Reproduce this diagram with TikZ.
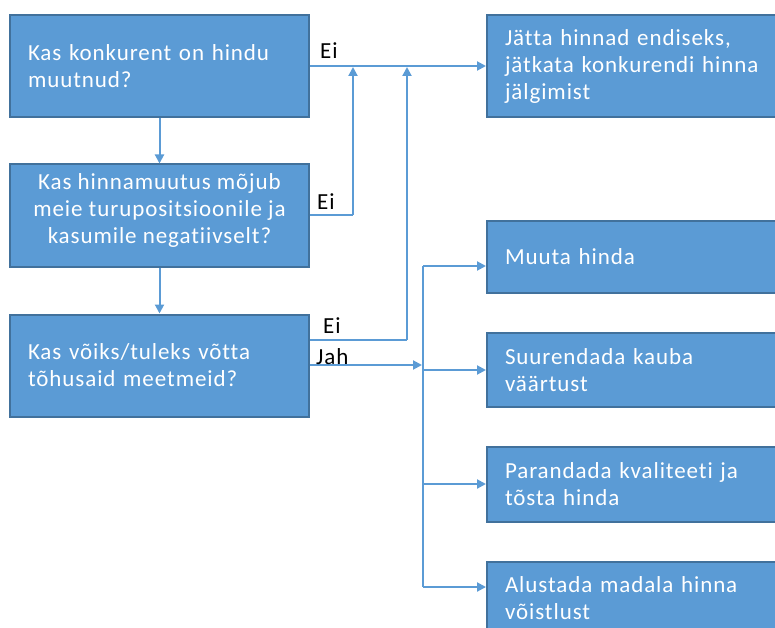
\documentclass[tikz,border=0pt]{standalone}
\usepackage{fontspec}
\setmainfont[Ligatures=NoCommon,LetterSpace=4]{Carlito}
\usetikzlibrary{arrows.meta}
\definecolor{boxfill}{HTML}{5B9BD5}
\definecolor{boxline}{HTML}{41719C}
\definecolor{linkcol}{HTML}{5B9BD5}
\begin{document}
\begin{tikzpicture}[x=1pt,y=-1pt,
  boxtext/.style={text=white,inner sep=0pt,font=\fontsize{23}{27}\selectfont},
  box/.style={boxtext,draw=boxline,line width=2pt,fill=boxfill},
  leftbox/.style={box,align=left,text width=#1},
  link/.style={draw=linkcol,line width=2pt},
  arr/.style={link,-{Triangle[length=9pt,width=9pt]}},
  lbl/.style={anchor=base west,inner sep=0pt,font=\fontsize{23}{27}\selectfont}]
\useasboundingbox (0,0) rectangle (775,628);

% question boxes (left column)
\node[leftbox=263pt,minimum width=299pt,minimum height=102pt] (qa) at (159.5,66)
  {Kas konkurent on hindu\\muutnud?};
\node[box,minimum width=299pt,minimum height=102pt] (qb) at (159.5,215.5) {};
\node[boxtext,align=center] (qbt) at (159.5,210)
  {Kas hinnamuutus mõjub\\meie turupositsioonile ja\\kasumile negatiivselt?};
\node[leftbox=263pt,minimum width=299pt,minimum height=102pt] (qc) at (159.5,365.5)
  {Kas võiks/tuleks võtta\\tõhusaid meetmeid?};

% outcome boxes (right column)
\node[leftbox=255pt,minimum width=291pt,minimum height=102pt] (r1) at (632.5,66)
  {Jätta hinnad endiseks,\\jätkata konkurendi hinna\\jälgimist};
\node[leftbox=255pt,minimum width=291pt,minimum height=72pt] (r2) at (632.5,257)
  {Muuta hinda};
\node[leftbox=255pt,minimum width=291pt,minimum height=74pt] (r3) at (632.5,370)
  {Suurendada kauba\\väärtust};
\node[leftbox=255pt,minimum width=291pt,minimum height=75pt] (r4) at (632.5,484.5)
  {Parandada kvaliteeti ja\\tõsta hinda};
\node[leftbox=255pt,minimum width=291pt,minimum height=72pt] (r5) at (632.5,598)
  {Alustada madala hinna\\võistlust};

% junction points
\coordinate (jb) at (353,215);
\coordinate (jbtop) at (353,67);
\coordinate (jc) at (407,340);
\coordinate (jctop) at (407,67);
\coordinate (tr2) at (423,266);
\coordinate (tr3) at (423,370);
\coordinate (tr4) at (423,484);
\coordinate (tr5) at (423,587);
\coordinate (jah) at (422,365);

% downward flow
\draw[arr] (qa.south) -- (qb.north);
\draw[arr] (qb.south) -- (qc.north);

% "Ei" branches to the top-right outcome
\draw[arr] (qa.east) -- (r1.west);
\draw[link] (qb.east |- jb) -- (jb);
\draw[arr] (jb) -- (jbtop);
\draw[link] (qc.east |- jc) -- (jc);
\draw[arr] (jc) -- (jctop);

% "Jah" branch and the fan-out
\draw[arr] (qc.east |- jah) -- (jah);
\draw[link] (tr2) -- (tr5);
\draw[arr] (tr2) -- (tr2 -| r2.west);
\draw[arr] (tr3) -- (tr3 -| r3.west);
\draw[arr] (tr4) -- (tr4 -| r4.west);
\draw[arr] (tr5) -- (tr5 -| r5.west);

% connector labels
\node[lbl] (la) at (320,59) {Ei};
\node[lbl] (lb) at (317,209) {Ei};
\node[lbl] (lc) at (323,333) {Ei};
\node[lbl] (ld) at (316,364) {Jah};
\end{tikzpicture}
\end{document}
